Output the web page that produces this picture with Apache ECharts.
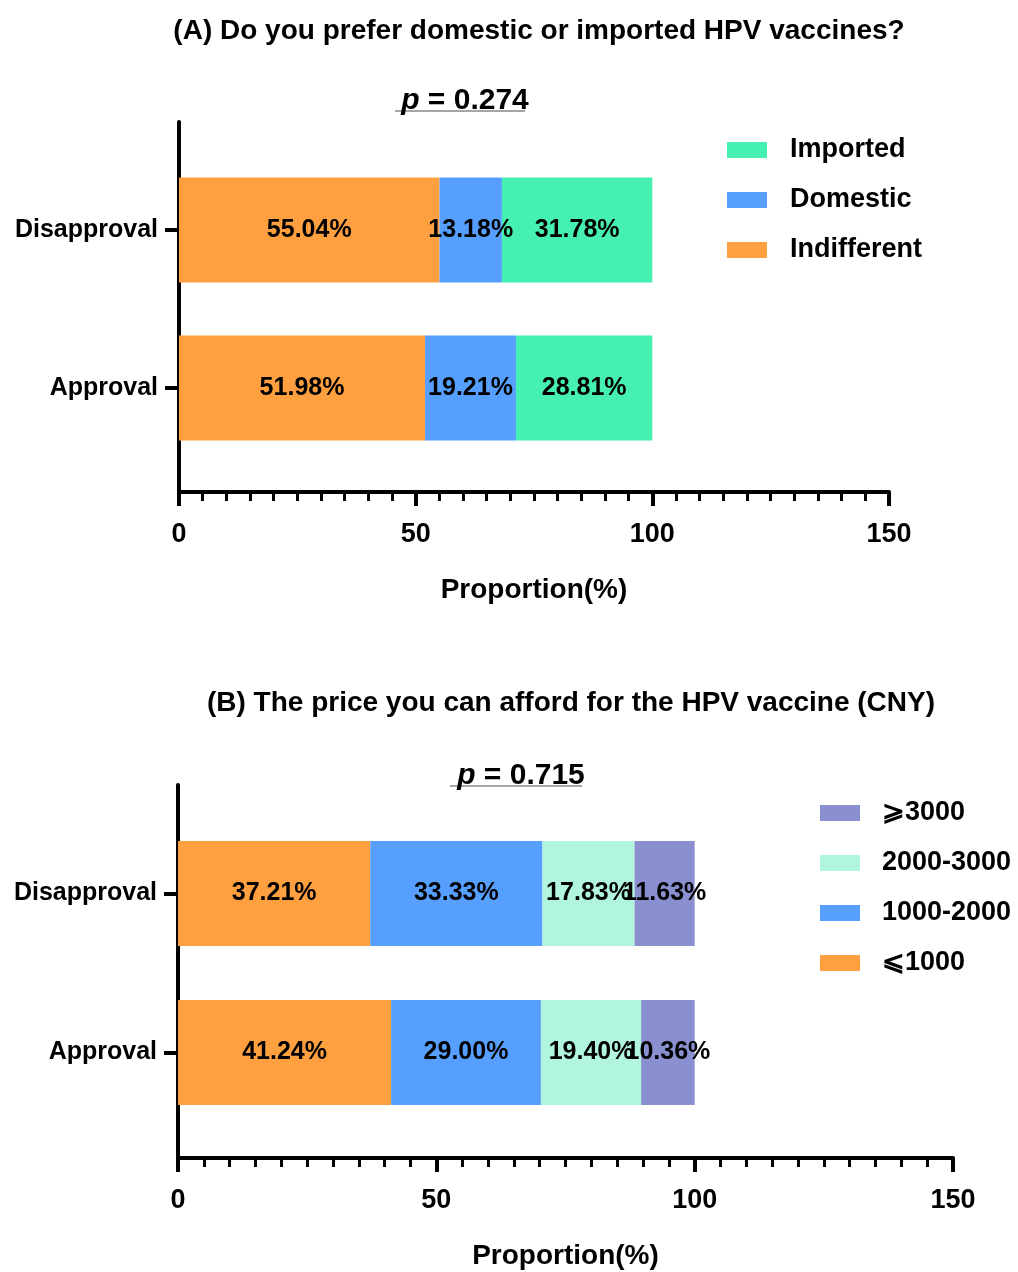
<!DOCTYPE html>
<html>
<head>
    <meta charset="UTF-8">
    <title></title>
    <script type="text/javascript" src="https://cdn.jsdelivr.net/npm/echarts@6/dist/echarts.min.js"></script>
</head>
<body style="margin:0;background:#fff;">
<div id="main" style="width: 1018px;height:1272px;"></div>
<script type="text/javascript">
    // 数据
    var categories = ['Approval', 'Disapproval'];
    var indifferent = [51.98, 55.04];
    var domestic = [19.21, 13.18];
    var imported = [28.81, 31.78];

    var below1000 = [41.24, 37.21];
    var from1000 = [29.00, 33.33];
    var from2000 = [19.40, 17.83];
    var above3000 = [10.36, 11.63];

    var xTicks = {min: 0, max: 150, interval: 50};

    var FONT = '"Liberation Sans", Arial, sans-serif';
    var black = '#000';

    var myChart = echarts.init(document.getElementById('main'));

    function valueAxis(gridIndex, offset) {
        return {
            type: 'value',
            gridIndex: gridIndex,
            min: xTicks.min,
            max: xTicks.max,
            interval: xTicks.interval,
            offset: offset,
            name: 'Proportion(%)',
            nameLocation: 'middle',
            nameGap: 84,
            nameTextStyle: {fontFamily: FONT, fontWeight: 'bold', fontSize: 28, color: black},
            axisLine: {show: true, lineStyle: {color: black, width: 4}},
            axisTick: {show: true, length: 14, lineStyle: {color: black, width: 4}},
            minorTick: {show: true, splitNumber: 10, length: 9, lineStyle: {color: black, width: 3}},
            splitLine: {show: false},
            axisLabel: {margin: 29, fontFamily: FONT, fontWeight: 'bold', fontSize: 27, color: black}
        };
    }

    function catAxis(gridIndex) {
        return {
            type: 'category',
            gridIndex: gridIndex,
            data: categories,
            axisLine: {show: false},
            axisTick: {show: true, alignWithLabel: true, length: 14, lineStyle: {color: black, width: 4}},
            axisLabel: {margin: 21, fontFamily: FONT, fontWeight: 'bold', fontSize: 25, color: black}
        };
    }

    // 只画竖直轴线
    function lineAxis(gridIndex) {
        return {
            type: 'value', gridIndex: gridIndex, min: 0, max: 1,
            axisLine: {show: true, lineStyle: {color: black, width: 4}},
            axisTick: {show: false}, axisLabel: {show: false}, splitLine: {show: false}
        };
    }

    function bar(name, data, color, stack, idx) {
        return {
            name: name,
            type: 'bar',
            stack: stack,
            xAxisIndex: idx,
            yAxisIndex: idx,
            barWidth: 105,
            data: data,
            itemStyle: {color: color},
            label: {
                show: true,
                position: 'inside',
                formatter: function (p) { return p.value.toFixed(2) + '%'; },
                fontFamily: FONT, fontWeight: 'bold', fontSize: 25, color: black
            }
        };
    }

    var pRich = {
        i: {fontFamily: FONT, fontStyle: 'italic', fontWeight: 'bold', fontSize: 30, color: black},
        n: {fontFamily: FONT, fontWeight: 'bold', fontSize: 30, color: black}
    };

    option = {
        backgroundColor: '#fff',
        animation: false,
        title: [
            {
                text: '(A) Do you prefer domestic or imported HPV vaccines?',
                left: 534, top: 12, textAlign: 'center',
                textStyle: {fontFamily: FONT, fontWeight: 'bold', fontSize: 28, color: black}
            },
            {
                text: '(B) The price you can afford for the HPV vaccine (CNY)',
                left: 566, top: 684, textAlign: 'center',
                textStyle: {fontFamily: FONT, fontWeight: 'bold', fontSize: 28, color: black}
            },
            {
                text: '{i|p}{n| = 0.274}',
                left: 460, top: 81, textAlign: 'center',
                textStyle: {rich: pRich}
            },
            {
                text: '{i|p}{n| = 0.715}',
                left: 516, top: 756, textAlign: 'center',
                textStyle: {rich: pRich}
            }
        ],
        graphic: [
            {type: 'line', shape: {x1: 395, y1: 111, x2: 525, y2: 111}, style: {stroke: '#888', lineWidth: 1.5}},
            {type: 'line', shape: {x1: 450, y1: 786, x2: 582, y2: 786}, style: {stroke: '#888', lineWidth: 1.5}}
        ],
        legend: [
            {
                data: ['Imported', 'Domestic', 'Indifferent'],
                orient: 'vertical', left: 727, top: 136, padding: 0,
                itemWidth: 40, itemHeight: 16, itemGap: 22,
                icon: 'rect', selectedMode: false,
                textStyle: {fontFamily: FONT, fontWeight: 'bold', fontSize: 27, color: black, padding: [0, 0, 0, 18], lineHeight: 28}
            },
            {
                data: ['⩾3000', '2000-3000', '1000-2000', '⩽1000'],
                orient: 'vertical', left: 820, top: 799, padding: 0,
                itemWidth: 40, itemHeight: 16, itemGap: 22,
                icon: 'rect', selectedMode: false,
                textStyle: {fontFamily: FONT, fontWeight: 'bold', fontSize: 27, color: black, padding: [0, 0, 0, 17], lineHeight: 28}
            }
        ],
        grid: [
            {left: 179, right: 129, top: 151, height: 316},
            {left: 178, right: 65, top: 814, height: 318},
            {left: 179, right: 129, top: 122, height: 370},
            {left: 178, right: 65, top: 785, height: 373}
        ],
        xAxis: [
            valueAxis(0, 25),
            valueAxis(1, 26),
            {type: 'value', gridIndex: 2, show: false, min: 0, max: 1},
            {type: 'value', gridIndex: 3, show: false, min: 0, max: 1}
        ],
        yAxis: [catAxis(0), catAxis(1), lineAxis(2), lineAxis(3)],
        series: [
            bar('Indifferent', indifferent, '#FFA040', 'a', 0),
            bar('Domestic', domestic, '#569FFF', 'a', 0),
            bar('Imported', imported, '#45F0B0', 'a', 0),
            bar('⩽1000', below1000, '#FFA040', 'b', 1),
            bar('1000-2000', from1000, '#569FFF', 'b', 1),
            bar('2000-3000', from2000, '#B2F5DF', 'b', 1),
            bar('⩾3000', above3000, '#8A8FCF', 'b', 1)
        ]
    };

    myChart.setOption(option);
</script>
</body>
</html>
